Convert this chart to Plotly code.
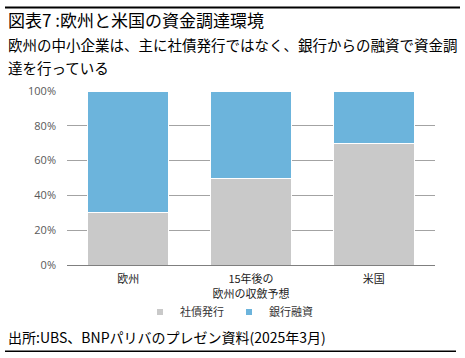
import plotly.graph_objects as go

categories = ["欧州", "15年後の<br>欧州の収斂予想", "米国"]
bond_share = [30, 50, 70]
bank_share = [70, 50, 30]
series_names = ["社債発行", "銀行融資"]
series_colors = ["#c9c9c9", "#6cb4dc"]
y_ticks = [0, 20, 40, 60, 80, 100]
y_tick_labels = ["0%", "20%", "40%", "60%", "80%", "100%"]

W, H = 465, 358
L, R, T, B = 67, 435, 90.7, 265.0
PW, PH = R - L, B - T

def px(x):
    return (x - L) / PW

def py(y):
    return (B - y) / PH

JP = "Noto Sans CJK JP"

fig = go.Figure()
for name, vals, col in zip(series_names, [bond_share, bank_share], series_colors):
    fig.add_trace(go.Bar(x=categories, y=vals, name=name, showlegend=False,
                         marker=dict(color=col, line=dict(color="white", width=1))))
# legend proxies with small square markers
for name, col in zip(series_names, series_colors):
    fig.add_trace(go.Scatter(x=[None], y=[None], mode="markers", name=name,
                             marker=dict(symbol="square", size=6, color=col)))

fig.update_layout(
    width=W, height=H,
    margin=dict(l=L, r=W - R, t=T, b=H - B, pad=0, autoexpand=False),
    barmode="stack", bargap=0.34,
    paper_bgcolor="white", plot_bgcolor="white",
    font=dict(family=JP, size=11, color="#333333"),
    showlegend=True,
    legend=dict(orientation="h", x=px(140), xanchor="left", y=py(312), yanchor="middle",
                font=dict(size=11, color="#333333"), itemwidth=30, traceorder="normal",
                bgcolor="rgba(0,0,0,0)", borderwidth=0),
    xaxis=dict(showgrid=False, showline=True, linecolor="#7f7f7f", linewidth=1,
               ticks="", automargin=False, ticklabelstandoff=4,
               tickfont=dict(size=11, color="#222222", family=JP)),
    yaxis=dict(range=[0, 100], tickvals=y_ticks, ticktext=y_tick_labels,
               showgrid=True, gridcolor="#a3a3a3", gridwidth=1, zeroline=False,
               showline=False, ticks="", ticklabelstandoff=10, automargin=False,
               tickfont=dict(size=11, color="#595959", family="Open Sans")),
)

anns = [
    dict(text="図表7 :欧州と米国の資金調達環境", x=px(6), y=py(19), size=17),
    dict(text="欧州の中小企業は、主に社債発行ではなく、銀行からの融資で資金調", x=px(6), y=py(44), size=14.5),
    dict(text="達を行っている", x=px(6), y=py(67), size=14.5),
    dict(text="出所:UBS、BNPパリバのプレゼン資料(2025年3月)", x=px(6), y=py(337), size=14),
]
for a in anns:
    fig.add_annotation(text=a["text"], x=a["x"], y=a["y"], xref="paper", yref="paper",
                       xanchor="left", yanchor="middle", showarrow=False,
                       font=dict(size=a["size"], color="#000000", family=JP))

fig.add_shape(type="line", xref="paper", yref="paper", x0=px(5), x1=px(460), y0=py(7), y1=py(7),
              line=dict(color="#000000", width=2), layer="above")
fig.add_shape(type="line", xref="paper", yref="paper", x0=px(5), x1=px(456), y0=py(351.5), y1=py(351.5),
              line=dict(color="#000000", width=1.5), layer="above")

fig.write_html("out.html", post_script="document.body.style.margin='0';",
               config={"displayModeBar": False})
